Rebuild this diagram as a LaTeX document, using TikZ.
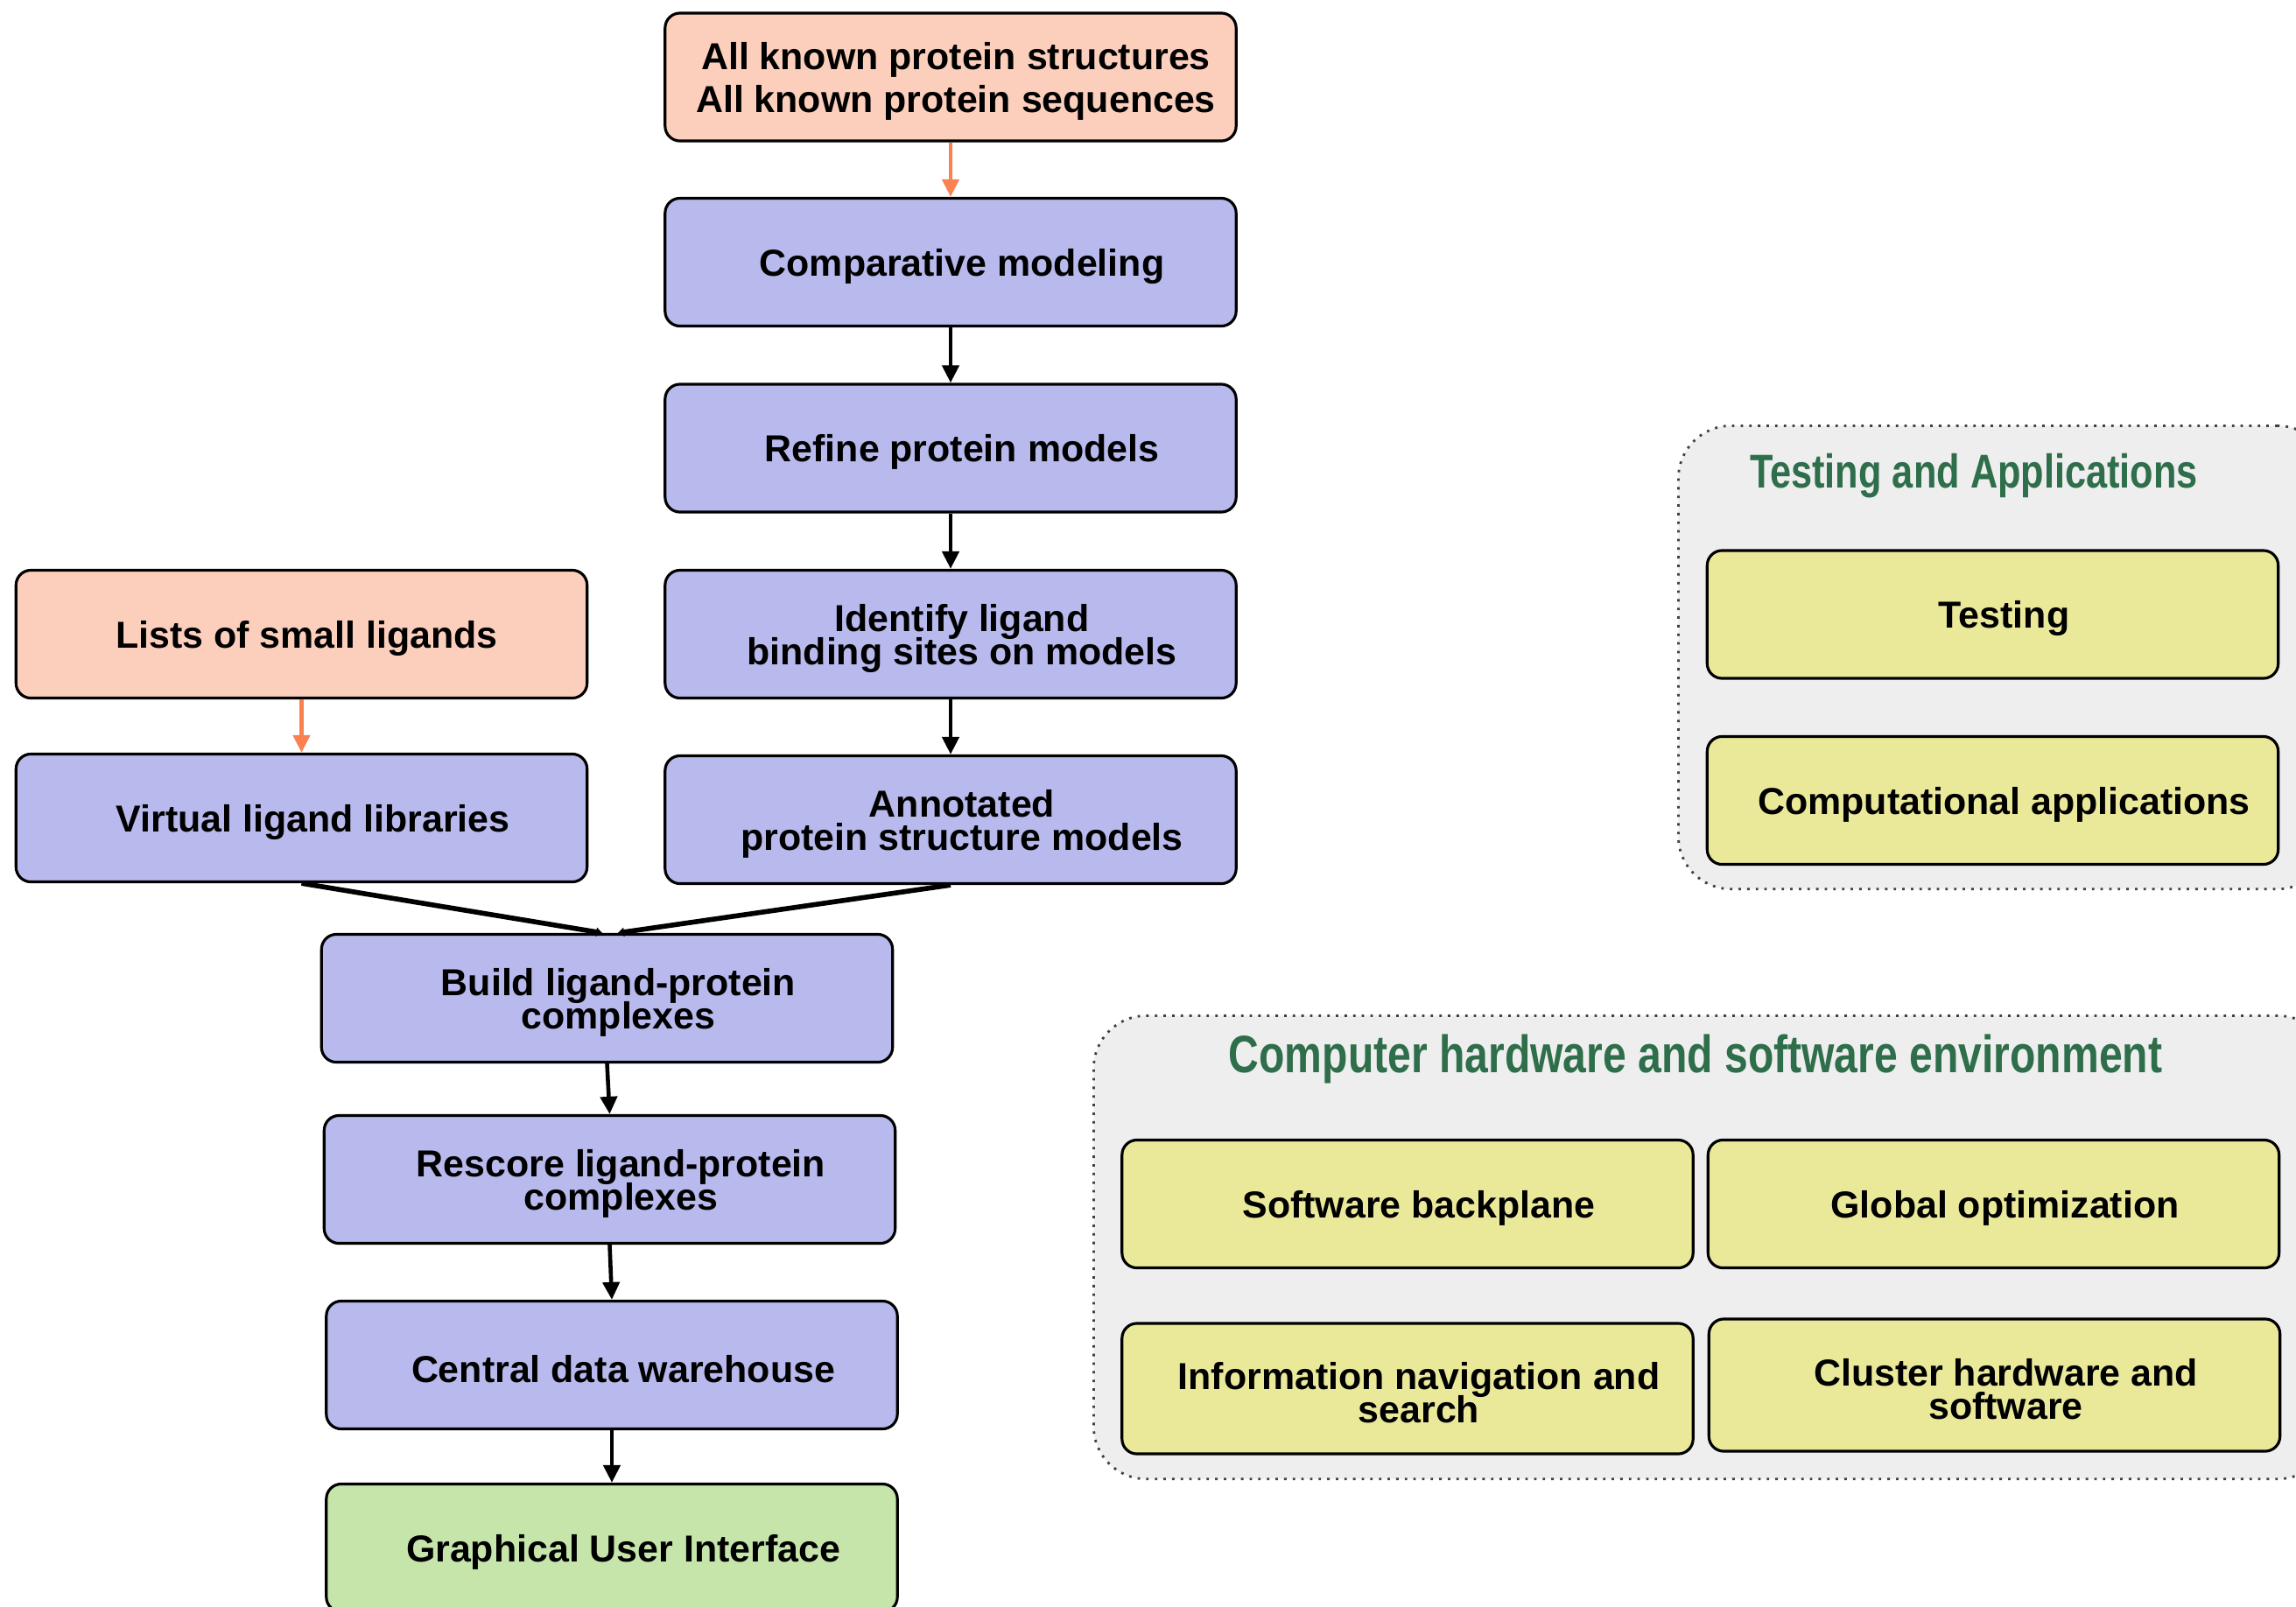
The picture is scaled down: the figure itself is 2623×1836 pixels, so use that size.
\documentclass[tikz,border=0pt]{standalone}
\usepackage{fontspec}
\setmainfont{Liberation Sans}
\newfontfamily\titlefont[FakeStretch=0.8]{Liberation Sans}
\usetikzlibrary{arrows.meta}
\definecolor{salmon}{RGB}{252,207,189}
\definecolor{lav}{RGB}{184,185,236}
\definecolor{yel}{RGB}{234,233,154}
\definecolor{gre}{RGB}{197,229,171}
\definecolor{panelgrey}{RGB}{238,238,238}
\definecolor{ttl}{RGB}{46,110,74}
\definecolor{orng}{RGB}{250,130,80}
\newcommand{\st}{\rule{0pt}{11.5pt}}
\newcommand{\sh}{\hspace*{0.26cm}}
\newcommand{\shs}{\hspace*{0.12cm}}
\setlength{\lineskiplimit}{-20pt}
\begin{document}
\begin{tikzpicture}[x=0.01cm,y=-0.01cm,
  box/.style={draw=black, line width=0.9pt, rounded corners=0.17cm,
    minimum width=6.52cm, minimum height=1.46cm, align=center, inner sep=0pt,
    font=\fontsize{12.2}{10.9}\selectfont\bfseries},
  pinkbox/.style={box, fill=salmon},
  bluebox/.style={box, fill=lav},
  yelbox/.style={box, fill=yel},
  grebox/.style={box, fill=gre},
  panelbox/.style={draw=black!75, dotted, line width=0.8pt, fill=panelgrey,
    rounded corners=0.6cm, anchor=north west, inner sep=0pt},
  ttlstyle/.style={text=ttl, inner sep=0pt},
  arr/.style={-{Triangle[length=0.2cm,width=0.19cm]}, line width=1.3pt, draw=black},
  oarr/.style={-{Triangle[length=0.2cm,width=0.19cm]}, line width=1.3pt, draw=orng},
  conv/.style={-{Triangle[length=0.07cm,width=0.1cm]}, line width=1.6pt, draw=black}
]
\useasboundingbox (0,0) rectangle (2623,1836);
\clip (0,0) rectangle (2623,1836);
\fill[white] (0,0) rectangle (2623,1836);

% panels
\node[panelbox, minimum width=7.44cm, minimum height=5.29cm] (pA) at (1916,485) {};
\node[panelbox, minimum width=14.12cm, minimum height=5.29cm] (pB) at (1248,1159) {};
\node[ttlstyle, font=\titlefont\bfseries\fontsize{15.4}{18}\selectfont] (tA) at (2255,544) {Testing and Applications};
\node[ttlstyle, font=\titlefont\bfseries\fontsize{17.1}{20}\selectfont] (tB) at (1937,1210) {Computer hardware and software environment};

% left flow
\node[pinkbox, font=\fontsize{12.2}{13.8}\selectfont\bfseries] (top) at (1086,88)
  {\st\shs All known protein structures\\\shs All known protein sequences};
\node[bluebox] (comp) at (1086,299.5) {\st\sh Comparative modeling};
\node[bluebox] (refine) at (1086,512) {\st\sh Refine protein models};
\node[bluebox] (ident) at (1086,724.5) {\st\sh Identify ligand\\\sh binding sites on models};
\node[bluebox] (annot) at (1086,936.5) {\st\sh Annotated\\\sh protein structure models};
\node[pinkbox] (lists) at (344.5,724.5) {\st\shs Lists of small ligands};
\node[bluebox] (virt) at (344.5,934.5) {\st\sh Virtual ligand libraries};
\node[bluebox] (build) at (693.5,1140.5) {\st\sh Build ligand-protein\\\sh complexes};
\node[bluebox] (rescore) at (696.5,1347.5) {\st\sh Rescore ligand-protein\\\sh complexes};
\node[bluebox] (central) at (699,1559.5) {\st\sh Central data warehouse};
\node[grebox] (gui) at (699,1768.5) {\st\sh Graphical User Interface};

% right boxes
\node[yelbox] (testing) at (2276.5,702) {\st\sh Testing};
\node[yelbox] (compapp) at (2276.5,914.5) {\st\sh Computational applications};
\node[yelbox] (soft) at (1608,1375.5) {\st\sh Software backplane};
\node[yelbox] (glob) at (2277.5,1375.5) {\st\sh Global optimization};
\node[yelbox, minimum height=1.49cm] (info) at (1608,1586.5) {\st\sh Information navigation and\\\sh search};
\node[yelbox, minimum height=1.51cm] (clust) at (2278.5,1582.5) {\st\sh Cluster hardware and\\\sh software};

% connectors
\draw[oarr] (top) -- (comp);
\draw[arr] (comp) -- (refine);
\draw[arr] (refine) -- (ident);
\draw[arr] (ident) -- (annot);
\draw[oarr] (lists) -- (virt);
\draw[conv] (virt.south) -- ([xshift=-0.055cm]build.north);
\draw[conv] (annot.south) -- ([xshift=0.125cm]build.north);
\draw[arr] (build.south) -- (rescore.north);
\draw[arr] (rescore.south) -- (central.north);
\draw[arr] (central) -- (gui);
\end{tikzpicture}
\end{document}
